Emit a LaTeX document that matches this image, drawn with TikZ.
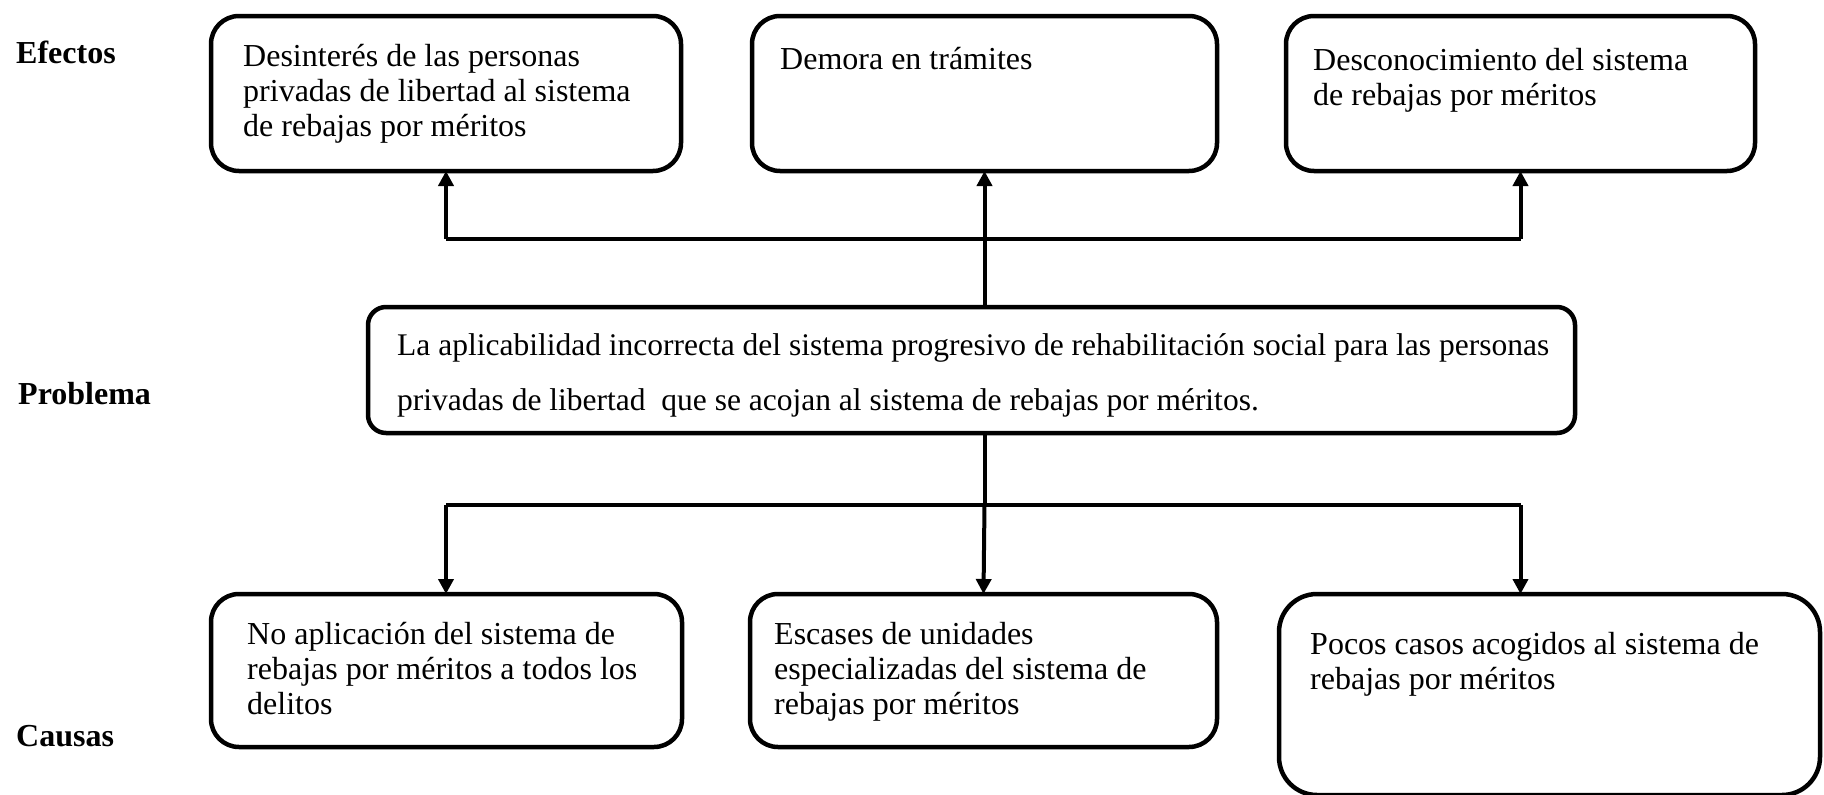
\documentclass[tikz,border=0pt]{standalone}
\usepackage{fontspec}
\setmainfont{Liberation Serif}
\usetikzlibrary{arrows.meta}
\begin{document}
\begin{tikzpicture}[x=1pt,y=-1pt,
  box/.style={draw, line width=4.5pt, rounded corners=28pt, anchor=north west, inner sep=0pt, outer sep=0pt},
  txt/.style={anchor=north west, inner sep=0pt, align=left, font=\fontsize{32}{35}\selectfont},
  ptxt/.style={anchor=north west, inner sep=0pt, align=left, font=\fontsize{31.5}{55}\selectfont},
  lbl/.style={anchor=base west, inner sep=0pt, font=\fontsize{32}{35}\selectfont\bfseries},
  conn/.style={line width=4pt},
  arr/.style={line width=4pt, -{Triangle[length=15pt,width=15pt]}}]
\useasboundingbox (0,0) rectangle (1824,795);
\fill[white] (0,0) rectangle (1824,795);

% labels
\node[lbl] (lefe) at (16,63) {Efectos};
\node[lbl] (lpro) at (18,404) {Problema};
\node[lbl] (lcau) at (16,746) {Causas};

% effect boxes
\node[box, minimum width=470pt, minimum height=155pt] (e1) at (211,16) {};
\node[box, minimum width=465pt, minimum height=155pt] (e2) at (752,16) {};
\node[box, minimum width=469pt, minimum height=155pt] (e3) at (1286,16) {};
\node[txt] (e1t) at (243,41.5) {\strut Desinterés de las personas\\privadas de libertad al sistema\\de rebajas por méritos};
\node[txt] (e2t) at (780,44.5) {\strut Demora en trámites};
\node[txt] (e3t) at (1313,45.5) {\strut Desconocimiento del sistema\\de rebajas por méritos};

% problem box
\node[box, rounded corners=18pt, minimum width=1207pt, minimum height=126pt] (prob) at (368,307) {};
\node[ptxt] (probt) at (397,316.5) {\strut La aplicabilidad incorrecta del sistema progresivo de rehabilitación social para las personas\\privadas de libertad\ \ que se acojan al sistema de rebajas por méritos.};

% cause boxes
\node[box, minimum width=471pt, minimum height=153pt] (c1) at (211,594) {};
\node[box, minimum width=467pt, minimum height=153pt] (c2) at (750,594) {};
\node[box, rounded corners=38pt, minimum width=541pt, minimum height=201pt] (c3) at (1279,594) {};
\node[txt] (c1t) at (247,619.5) {\strut No aplicación del sistema de\\rebajas por méritos a todos los\\delitos};
\node[txt] (c2t) at (774,619.5) {\strut Escases de unidades\\especializadas del sistema de\\rebajas por méritos};
\node[txt] (c3t) at (1310,629.5) {\strut Pocos casos acogidos al sistema de\\rebajas por méritos};

% connectors top
\coordinate (top) at (0,239);
\coordinate (bot) at (0,505);
\draw[conn] (e1.south |- top) -- (e3.south |- top);
\draw[arr] (e1.south |- top) -- (e1.south);
\draw[arr] (e3.south |- top) -- (e3.south);
\draw[arr] (e2.south |- prob.north) -- (e2.south);

% connectors bottom
\draw[conn] (e2.south |- prob.south) -- (e2.south |- bot);
\draw[conn] (e1.south |- bot) -- (e3.south |- bot);
\draw[arr] (e1.south |- bot) -- (e1.south |- c1.north);
\draw[arr] (e2.south |- bot) -- (c2.north);
\draw[arr] (e3.south |- bot) -- (e3.south |- c3.north);
\end{tikzpicture}
\end{document}
